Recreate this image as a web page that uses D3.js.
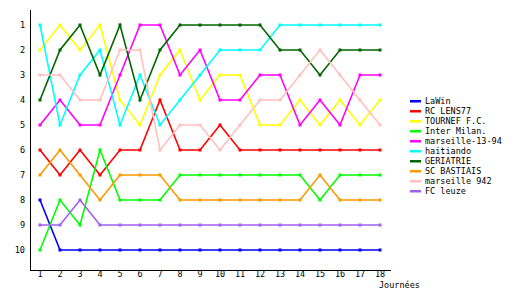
<!DOCTYPE html>
<html><head><meta charset="utf-8">
<script src="https://cdn.jsdelivr.net/npm/d3@7"></script>
<style>body{margin:0;background:#fff}svg{display:block}text{font-family:"DejaVu Sans Mono",monospace;font-size:8.5px;fill:#000}</style>
</head><body><svg id="c" width="530" height="300"></svg>
<script>
const journees = d3.range(1, 19);
const ranks = d3.range(1, 11);
const teams = ["LaWin","RC LENS77","TOURNEF F.C.","Inter Milan.","marseille-13-94","haitiando","GERIATRIE","SC BASTIAIS","marseille 942","FC leuze"];
const colors = ["#0000ff","#ff0000","#ffff00","#00ff00","#ff00ff","#00ffff","#006600","#ff9900","#ffc0c0","#a060f0"];
const laWin      = [8,10,10,10,10,10,10,10,10,10,10,10,10,10,10,10,10,10];
const rcLens     = [6,7,6,7,6,6,4,6,6,5,6,6,6,6,6,6,6,6];
const tournef    = [2,1,2,1,4,5,3,2,4,3,3,5,5,4,5,4,5,4];
const interMilan = [10,8,9,6,8,8,8,7,7,7,7,7,7,7,8,7,7,7];
const marseille1394 = [5,4,5,5,3,1,1,3,2,4,4,3,3,5,4,5,3,3];
const haitiando  = [1,5,3,2,5,3,5,4,3,2,2,2,1,1,1,1,1,1];
const geriatrie  = [4,2,1,3,1,4,2,1,1,1,1,1,2,2,3,2,2,2];
const scBastiais = [7,6,7,8,7,7,7,8,8,8,8,8,8,8,7,8,8,8];
const marseille942 = [3,3,4,4,2,2,6,5,5,6,5,4,4,3,2,3,4,5];
const fcLeuze    = [9,9,8,9,9,9,9,9,9,9,9,9,9,9,9,9,9,9];
const series = [laWin, rcLens, tournef, interMilan, marseille1394, haitiando, geriatrie, scBastiais, marseille942, fcLeuze];

const svg = d3.select("#c");
const x = d3.scaleLinear().domain([1, 18]).range([40, 380]);
const y = d3.scaleLinear().domain([1, 10]).range([25, 250]);

svg.append("line").attr("x1",30.5).attr("x2",30.5).attr("y1",10).attr("y2",270.5).attr("stroke","#000").attr("stroke-width",1);
svg.append("line").attr("x1",30).attr("x2",391).attr("y1",270.5).attr("y2",270.5).attr("stroke","#000").attr("stroke-width",1);

svg.append("g").selectAll("text").data(ranks).join("text")
  .attr("x", 25).attr("y", d => y(d) + 3).attr("text-anchor","end").text(d => d);
svg.append("g").selectAll("text").data(journees).join("text")
  .attr("x", d => x(d)).attr("y", 277).attr("text-anchor","middle").text(d => d);
svg.append("text").attr("x", 379).attr("y", 288).text("Journées");

const line = d3.line().x((d,i) => x(journees[i])).y(d => y(d));
series.forEach((s, k) => {
  const g = svg.append("g");
  g.append("path").attr("d", line(s)).attr("fill","none").attr("stroke", colors[k]).attr("stroke-width",1.6);
  g.selectAll("rect").data(s).join("rect")
    .attr("x", (d,i) => Math.round(x(journees[i])) - 1.5).attr("y", d => Math.round(y(d)) - 1.5)
    .attr("width",3).attr("height",3).attr("fill", colors[k]);
});

const leg = svg.append("g");
teams.forEach((t, k) => {
  const ly = 101 + k * 10;
  leg.append("rect").attr("x",410).attr("y",ly-1).attr("width",11).attr("height",2.5).attr("fill",colors[k]);
  leg.append("text").attr("x",425).attr("y",ly+3).text(t);
});
</script></body></html>
